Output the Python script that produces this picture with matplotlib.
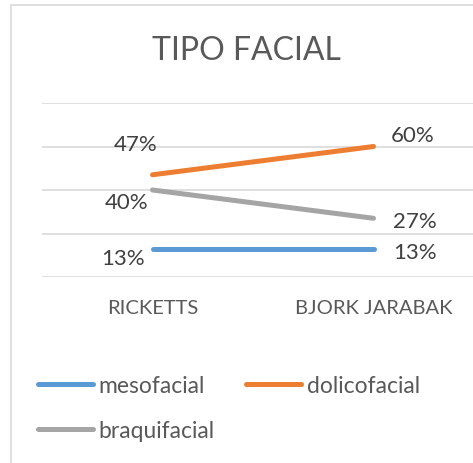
import matplotlib.pyplot as plt
from matplotlib.patches import Rectangle

# ----------------------- Data ---------------------------
categories = ["RICKETTS", "BJORK JARABAK"]
mesofacial = [0.13, 0.13]
dolicofacial = [0.47, 0.60]
braquifacial = [0.40, 0.27]

series = {
    "mesofacial": mesofacial,
    "dolicofacial": dolicofacial,
    "braquifacial": braquifacial,
}
colors = {"mesofacial": "#5B9BD5", "dolicofacial": "#ED7D31", "braquifacial": "#A5A5A5"}

# label offsets in points (left point, right point)
label_offsets = {
    "mesofacial": [(-21, -7), (30, -2)],
    "dolicofacial": [(-12, 22), (28, 8)],
    "braquifacial": [(-19, -9), (30, -2)],
}

plt.rcParams["font.family"] = ["Lato", "DejaVu Sans"]

W, H = 473, 464
fig = plt.figure(figsize=(W / 100, H / 100), dpi=100)

# chart frame (cropped on right and bottom)
fig.patches.append(Rectangle((11 / W, -0.1), 1.2, 1 - 6 / H + 0.1, transform=fig.transFigure,
                             fill=False, edgecolor="#D9D9D9", linewidth=1.2))

left, right = 42 / W, 484 / W
bottom, top = 1 - 278 / H, 1 - 104 / H
ax = fig.add_axes([left, bottom, right - left, top - bottom])

x = list(range(len(categories)))
for name, vals in series.items():
    ax.plot(x, vals, color=colors[name], linewidth=3.6, solid_capstyle="round", label=name)
    for i, v in enumerate(vals):
        ax.annotate(f"{v * 100:.0f}%", (x[i], v), xytext=label_offsets[name][i],
                    textcoords="offset points", ha="center", va="center",
                    fontsize=16, color="#404040")

ax.set_xlim(-0.5, 1.5)
ax.set_ylim(0, 0.8)
ax.set_yticks([0, 0.2, 0.4, 0.6, 0.8])
ax.set_yticklabels([])
ax.grid(axis="y", color="#D9D9D9", linewidth=1.2)
ax.set_axisbelow(True)
ax.tick_params(axis="both", length=0)
ax.set_xticks(x)
ax.set_xticklabels(categories, fontsize=14.5, color="#595959")
ax.tick_params(axis="x", pad=16)
for s in ax.spines.values():
    s.set_visible(False)

fig.text(246 / W, 1 - 51 / H, "TIPO FACIAL", ha="center", va="center",
         fontsize=23, color="#595959")

handles, labels = ax.get_legend_handles_labels()
order = [0, 2, 1]
fig.legend([handles[i] for i in order], [labels[i] for i in order], ncol=2,
           loc="upper left", bbox_to_anchor=(38 / W, 1 - 376 / H), frameon=False,
           borderpad=0, borderaxespad=0,
           fontsize=16.5, handlelength=2.4, handletextpad=0.25, columnspacing=1.35,
           labelspacing=1.05, labelcolor="#595959")

plt.savefig("out.png", dpi=100)
